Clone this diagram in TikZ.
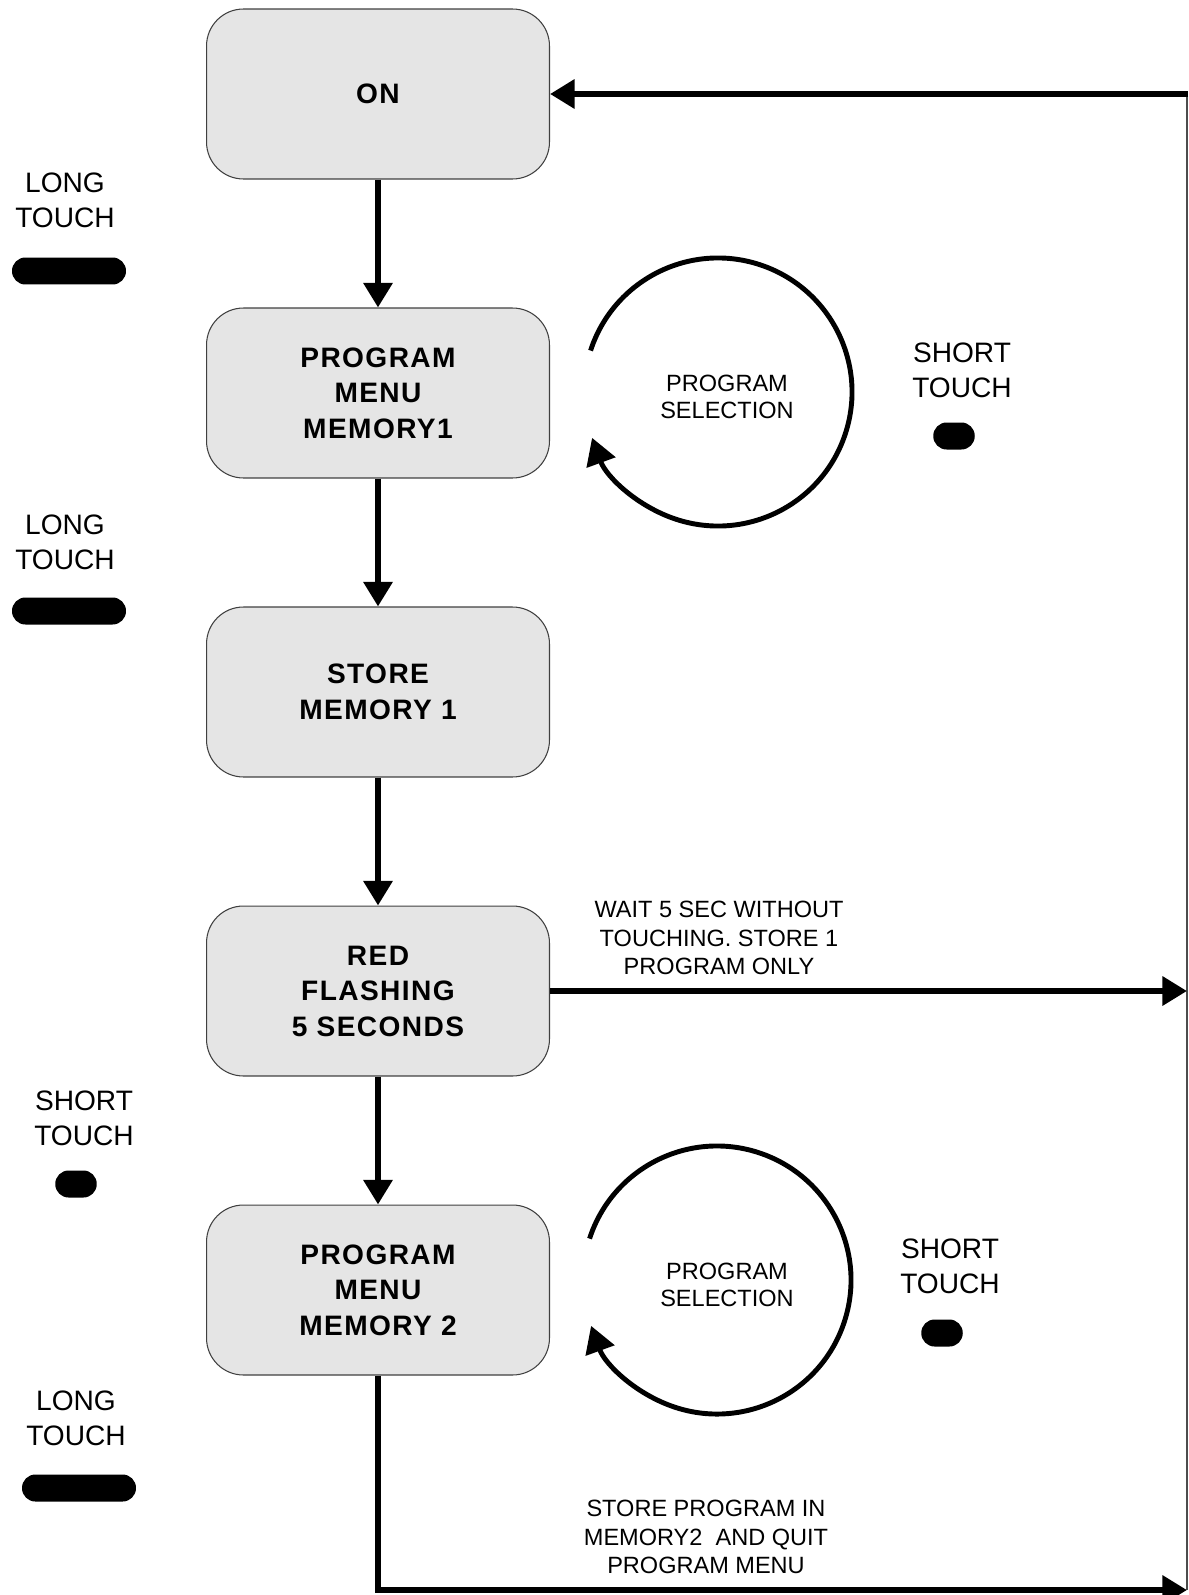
\documentclass[tikz,border=0pt]{standalone}
\usepackage{fontspec}
\setmainfont{Liberation Sans}
\newfontfamily\statefam[LetterSpace=5]{Liberation Sans}
\usetikzlibrary{arrows.meta}

\newcommand\statefont{\statefam\fontsize{16}{20.2}\selectfont\bfseries}
\newcommand\touchfont{\fontsize{16}{19.8}\selectfont}
\newcommand\notefont{\fontsize{13.4}{16.4}\selectfont}
\newcommand\selfont{\fontsize{13.4}{15.1}\selectfont}

\begin{document}
\begin{tikzpicture}[x=0.02cm,y=-0.02cm,
  >={Triangle[length=14pt,width=16pt]},
  statebox/.style={draw=black!75,line width=0.6pt,fill=black!10,rounded corners=21pt,
    minimum width=6.86cm,minimum height=3.4cm,align=center,font=\statefont},
  flow/.style={line width=3.4pt},
  selloop/.style={line width=2.8pt,-{Triangle[length=15pt,width=17pt]}},
  touch/.style={align=center,font=\touchfont},
  note/.style={align=center,font=\notefont},
  longpill/.style={fill=black,rounded corners=7.6pt,minimum width=2.28cm,
    minimum height=0.54cm,inner sep=0pt},
  shortpill/.style={longpill,minimum width=0.83cm}]
  \useasboundingbox (0,0) rectangle (1188,1595);

  % states
  \node[statebox] (on) at (378,94) {ON};
  \node[statebox] (menua) at (378,393) {PROGRAM\\MENU\\MEMORY1};
  \node[statebox] (storea) at (378,692) {STORE\\MEMORY 1};
  \node[statebox] (redflash) at (378,991) {RED\\FLASHING\\5 SECONDS};
  \node[statebox] (menub) at (378,1290) {PROGRAM\\MENU\\MEMORY 2};

  % right return line
  \coordinate (rtop) at (1188,94);
  \coordinate (rmid) at (1187,991);
  \coordinate (rbot) at (1187,1590);
  \draw[black!70,line width=0.6pt] (1187,94) -- (rbot);

  \draw[flow,->] (on) -- (menua);
  \draw[flow,->] (menua) -- (storea);
  \draw[flow,->] (storea) -- (redflash);
  \draw[flow,->] (redflash) -- (menub);
  \draw[flow,->] (rtop) -- (on.east);
  \draw[flow,->] (redflash.east) -- (rmid);
  \draw[flow,->] (menub.south) |- (rbot);

  \node[note] (waitnote) at (719,938) {WAIT 5 SEC WITHOUT\\TOUCHING. STORE 1\\PROGRAM ONLY};
  \node[note] (quitnote) at (706,1537) {STORE PROGRAM IN\\MEMORY2\ \ AND QUIT\\PROGRAM MENU};

  % touches on the left
  \node[touch] (longa) at (65,200) {LONG\\TOUCH};
  \node[longpill] (pilla) at (69,271) {};
  \node[touch] (longb) at (65,542) {LONG\\TOUCH};
  \node[longpill] (pillb) at (69,611) {};
  \node[touch] (shortc) at (84,1118) {SHORT\\TOUCH};
  \node[shortpill] (pillc) at (76,1184) {};
  \node[touch] (longd) at (76,1418) {LONG\\TOUCH};
  \node[longpill] (pilld) at (79,1488) {};

  % program selection loops
  \coordinate (sela) at (718,392);
  \draw[selloop] (sela) ++(-162:134) arc[start angle=-162,end angle=160,radius=134];
  \node[font=\selfont,align=center] (sellabela) at (727,397) {PROGRAM\\SELECTION};
  \node[touch] (shorta) at (962,370) {SHORT\\TOUCH};
  \node[shortpill] (spilla) at (954,436) {};

  \coordinate (selb) at (717,1280);
  \draw[selloop] (selb) ++(-162:134) arc[start angle=-162,end angle=160,radius=134];
  \node[font=\selfont,align=center] (sellabelb) at (727,1285) {PROGRAM\\SELECTION};
  \node[touch] (shortb) at (950,1266) {SHORT\\TOUCH};
  \node[shortpill] (spillb) at (942,1333) {};
\end{tikzpicture}
\end{document}
